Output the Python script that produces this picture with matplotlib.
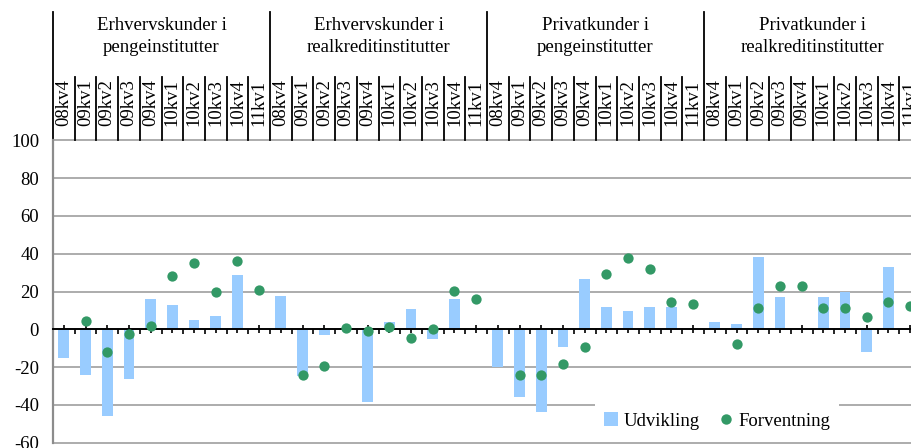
import numpy as np
import matplotlib
matplotlib.use('Agg')
import matplotlib.pyplot as plt
from matplotlib.patches import Patch
from matplotlib.lines import Line2D
from matplotlib.transforms import blended_transform_factory

plt.rcParams['font.family'] = ['Liberation Serif', 'DejaVu Serif']
plt.rcParams['axes.unicode_minus'] = False

# Quarters shown inside every customer group
quarters = ['08kv4', '09kv1', '09kv2', '09kv3', '09kv4',
            '10kv1', '10kv2', '10kv3', '10kv4', '11kv1']

groups = ['Erhvervskunder i\npengeinstitutter',
          'Erhvervskunder i\nrealkreditinstitutter',
          'Privatkunder i\npengeinstitutter',
          'Privatkunder i\nrealkreditinstitutter']

nan = np.nan

# Udvikling (bars), one list per group
udv_erhv_penge = [-15, -24, -46, -26.5, 16, 13, 5, 7, 29, nan]
udv_erhv_real = [17.5, -25, -3, nan, -38.5, 4, 10.5, -5, 16, nan]
udv_priv_penge = [-20, -36, -44, -9.5, 26.5, 12, 9.5, 12, 12, nan]
udv_priv_real = [4, 3, 38.5, 17, nan, 17, 20, -12, 33, nan]

# Forventning (dots), one list per group
forv_erhv_penge = [nan, 4.5, -12, -2.5, 1.5, 28, 35, 20, 36, 21]
forv_erhv_real = [nan, -24.5, -19.5, 0.5, -1, 1, -4.5, 0, 20.5, 16]
forv_priv_penge = [nan, -24, -24.5, -18.5, -9.5, 29.5, 37.5, 32, 14.5, 13.5]
forv_priv_real = [nan, -8, 11, 23, 23, 11, 11, 6.5, 14.5, 12.5]

udvikling = udv_erhv_penge + udv_erhv_real + udv_priv_penge + udv_priv_real
forventning = forv_erhv_penge + forv_erhv_real + forv_priv_penge + forv_priv_real

bar_color = '#99CCFF'
dot_color = '#339966'
grid_color = '#a6a6a6'
fs = 13.5

n = len(quarters) * len(groups)
x = np.arange(n)

fig = plt.figure(figsize=(9.11, 4.48), dpi=100)
# plot area runs a little past the right edge of the figure
ax = fig.add_axes([53 / 911, 5.5 / 448, 868 / 911, 302 / 448])

ax.bar(x, udvikling, width=0.5, color=bar_color, zorder=2)
ax.scatter(x, forventning, s=55, color=dot_color, zorder=3, linewidths=0)

ax.set_xlim(-0.5, n - 0.5)
ax.set_ylim(-60, 100)
yt = np.arange(-60, 101, 20)
ax.set_yticks(yt)
for v in yt:
    if v != 0:
        ax.axhline(v, color=grid_color, lw=1.3, zorder=0.5, clip_on=False)

for s in ['top', 'right']:
    ax.spines[s].set_visible(False)
ax.spines['left'].set_color('#8c8c8c')
ax.spines['left'].set_linewidth(1.6)
ax.spines['bottom'].set_position(('data', 0))
ax.spines['bottom'].set_color('black')
ax.spines['bottom'].set_linewidth(1.4)

ax.set_xticks(x)
ax.set_xticklabels([])
ax.set_xticks(np.arange(-0.5, n, 1.0), minor=True)
ax.tick_params(axis='x', which='major', direction='inout', length=6, width=1.2)
ax.tick_params(axis='x', which='minor', direction='out', length=3.5, width=1.2)
ax.tick_params(axis='y', length=0, pad=10, labelsize=fs)

# header above the plot: separators, quarter labels and group names
tr = blended_transform_factory(ax.transData, ax.transAxes)
px = 1 / 302  # one pixel in axes fraction (vertical)
for b in np.arange(-0.5, n, 1.0):
    top = 1 + 128 * px if (b + 0.5) % len(quarters) == 0 else 1 + 63 * px
    ax.plot([b, b], [1, top], color='black', lw=1.3, transform=tr, clip_on=False)

for i in range(n):
    ax.text(x[i], 1 + 14 * px, quarters[i % len(quarters)], rotation=90,
            ha='center', va='bottom', fontsize=fs, transform=tr)

for g, name in enumerate(groups):
    xc = g * len(quarters) + (len(quarters) - 1) / 2
    ax.text(xc, 1 + 104 * px, name, ha='center', va='center', fontsize=fs,
            linespacing=1.4, transform=tr)

handles = [Patch(facecolor=bar_color, edgecolor='none'),
           Line2D([], [], marker='o', ls='none', color=dot_color,
                  markersize=7.5, markeredgewidth=0)]
leg = fig.legend(handles, ['Udvikling', 'Forventning'], loc='center',
                 bbox_to_anchor=(717 / 911, 1 - 421 / 448), ncol=2,
                 fontsize=fs, frameon=True, fancybox=False, edgecolor='none',
                 facecolor='white', framealpha=1, handlelength=0.75,
                 handleheight=0.75, handletextpad=0.3, columnspacing=1.0,
                 borderpad=0.5)

fig.savefig('out.png', dpi=100)
